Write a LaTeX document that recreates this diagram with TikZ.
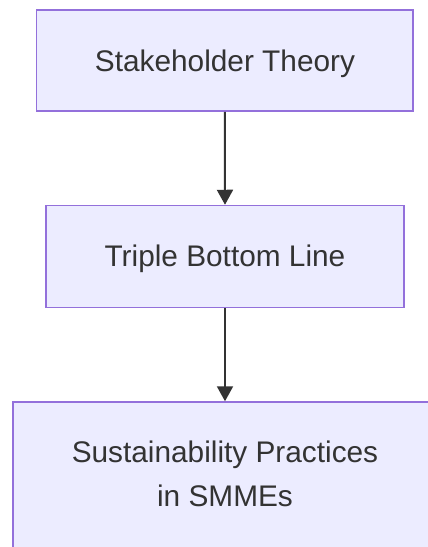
\documentclass[tikz,border=0pt]{standalone}
\usepackage{fontspec}
\setmainfont{Liberation Sans}
\usetikzlibrary{arrows.meta}
\definecolor{boxfill}{HTML}{ECECFF}
\definecolor{boxline}{HTML}{9370DB}
\definecolor{txt}{HTML}{333333}
\tikzset{
  box/.style={draw=boxline, fill=boxfill, line width=1.5pt, rectangle, inner sep=0pt},
  lbl/.style={text=txt, inner sep=0pt, anchor=base, font=\fontsize{29.8}{44}\selectfont},
  link/.style={draw=txt, line width=2pt, -{Triangle[width=16pt,length=15pt]}, shorten >=0pt},
}
\begin{document}
\begin{tikzpicture}[x=1pt,y=-1pt]
\path[use as bounding box, clip] (0,0) rectangle (428,547);
\fill[white] (0,0) rectangle (428,547);
% boxes
\node[box, minimum width=376.5pt, minimum height=101pt] (b1) at (224.75,60.5) {};
\node[box, minimum width=358pt, minimum height=102pt] (b2) at (225,256.5) {};
\node[box, minimum width=424pt, minimum height=145.5pt] (b3) at (225,474.75) {};
% texts
\node[lbl] (t1) at (225,71) {Stakeholder Theory};
\node[lbl] (t2) at (225,266.5) {Triple Bottom Line};
\node[lbl] (t3a) at (225,462.7) {Sustainability Practices};
\node[lbl] (t3b) at (225,506.7) {in SMMEs};
% connectors
\draw[link] (b1.south) -- (b2.north);
\draw[link] (b2.south) -- (b3.north);
\end{tikzpicture}
\end{document}
